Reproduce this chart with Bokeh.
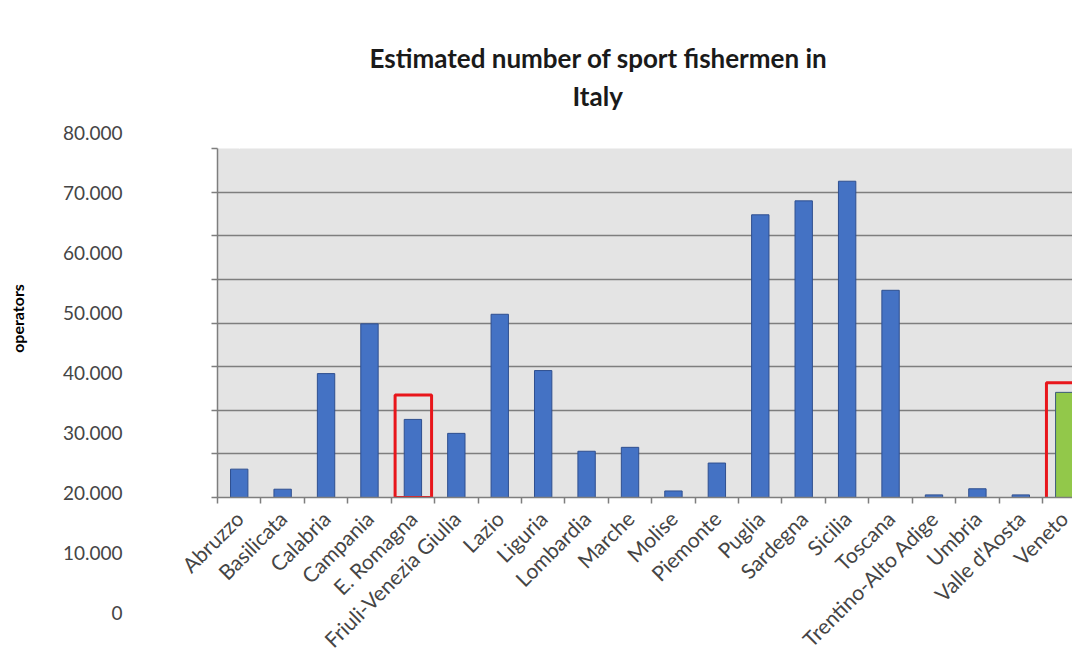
import math
from bokeh.plotting import figure
from bokeh.models import Range1d, FixedTicker, Title, ColumnDataSource, LinearAxis
from bokeh.layouts import row
from bokeh.embed import file_html
from bokeh.resources import INLINE

# ---------------- data ----------------
regions = ["Abruzzo", "Basilicata", "Calabria", "Campania", "E. Romagna",
           "Friuli-Venezia Giulia", "Lazio", "Liguria", "Lombardia", "Marche",
           "Molise", "Piemonte", "Puglia", "Sardegna", "Sicilia", "Toscana",
           "Trentino-Alto Adige", "Umbria", "Valle d'Aosta", "Veneto"]
fishermen = [6500, 1900, 28400, 39800, 17900,
             14700, 42000, 29100, 10600, 11500,
             1500, 7900, 64800, 68000, 72500, 47500,
             600, 2000, 600, 24100]
highlight_regions = ["E. Romagna", "Veneto"]
highlight_top = [23500, 26300]
highlight_bottom = [0, -3700]
y_ticks = [0, 10000, 20000, 30000, 40000, 50000, 60000, 70000, 80000]
y_tick_labels = ["0", "10.000", "20.000", "30.000", "40.000",
                 "50.000", "60.000", "70.000", "80.000"]
title_lines = ["Estimated number of sport fishermen in", "Italy"]
y_label = "operators"

FONT = "Lato"
BLUE = "#4472C4"
BLUE_EDGE = "#2F4F8F"
GREEN = "#92C84A"
GREEN_EDGE = "#3B5A7A"
GRID = "#7E7E7E"
TXT = "#454545"


def no_frame_align(fig):
    try:
        fig.frame_align = False
    except Exception:
        pass


# ---------------- left figure: value labels ----------------
lab = figure(width=130, height=665, x_axis_location=None,
             x_range=Range1d(0, 1), y_range=Range1d(-499, 98628),
             min_border_left=128, min_border_right=0,
             min_border_top=20, min_border_bottom=49,
             output_backend="svg", toolbar_location=None)
no_frame_align(lab)
lab.outline_line_color = None
lab.grid.visible = False
lab.background_fill_color = None
lab.border_fill_color = "white"
ya = lab.yaxis[0]
ya.ticker = FixedTicker(ticks=y_ticks, minor_ticks=[])
ya.major_label_overrides = {t: s for t, s in zip(y_ticks, y_tick_labels)}
ya.axis_line_color = None
ya.major_tick_line_color = None
ya.minor_tick_line_color = None
ya.major_tick_out = 0
ya.major_tick_in = 0
ya.major_label_standoff = 6
ya.major_label_text_font = FONT
ya.major_label_text_font_size = "19px"
ya.major_label_text_color = TXT
ya.axis_label = y_label
ya.axis_label_text_font = FONT
ya.axis_label_text_font_size = "16px"
ya.axis_label_text_font_style = "bold"
ya.axis_label_text_color = "#000000"
ya.axis_label_standoff = 33

# ---------------- main figure ----------------
n = len(regions)
idx = list(range(n))
src = ColumnDataSource(dict(
    x=idx, top=fishermen, name=regions,
    fill=[GREEN if r == "Veneto" else BLUE for r in regions],
    edge=[GREEN_EDGE if r == "Veneto" else BLUE_EDGE for r in regions],
))

p = figure(width=942, height=665,
           x_range=Range1d(-0.5, 19.19), y_range=Range1d(0, 80000),
           min_border_left=87, min_border_right=0,
           min_border_top=148, min_border_bottom=168,
           output_backend="svg", toolbar_location=None)
no_frame_align(p)
p.background_fill_color = "#E4E4E4"
p.border_fill_color = "white"
p.outline_line_color = None
p.xgrid.visible = False
p.ygrid.ticker = FixedTicker(ticks=y_ticks)
p.ygrid.grid_line_color = GRID
p.ygrid.grid_line_width = 1.5

p.vbar(x="x", top="top", width=0.4, source=src,
       fill_color="fill", line_color="edge", line_width=1)

hx = [regions.index(r) for r in highlight_regions]
p.quad(left=[i - 0.41 for i in hx], right=[i + 0.43 for i in hx],
       top=highlight_top, bottom=highlight_bottom,
       fill_color=None, line_color="#E8161B", line_width=3)

# plot-area left edge with outward stubs (minor ticks only, no labels)
yax = p.yaxis[0]
yax.ticker = FixedTicker(ticks=[], minor_ticks=y_ticks)
yax.major_tick_line_color = None
yax.minor_tick_out = 6
yax.minor_tick_in = 0
yax.minor_tick_line_color = GRID
yax.minor_tick_line_width = 1.5
yax.axis_line_color = GRID
yax.axis_line_width = 1.5

xax = p.xaxis[0]
xax.ticker = FixedTicker(ticks=idx, minor_ticks=[i - 0.5 for i in range(n + 1)])
xax.major_label_overrides = {i: r for i, r in zip(idx, regions)}
xax.major_label_orientation = math.pi / 4
xax.major_label_text_font = FONT
xax.major_label_text_font_size = "21px"
xax.major_label_text_color = TXT
xax.major_label_standoff = 11
xax.major_tick_out = 0
xax.major_tick_in = 0
xax.minor_tick_out = 6
xax.minor_tick_in = 0
xax.minor_tick_line_color = GRID
xax.minor_tick_line_width = 1.5
xax.axis_line_color = GRID
xax.axis_line_width = 1.5

# blank spacer between the title block and the plot area:
# one white (invisible) tick, labels not drawn
spacer = LinearAxis(ticker=FixedTicker(ticks=[0], minor_ticks=[]),
                    axis_line_color=None, major_tick_line_color="white",
                    minor_tick_line_color=None, major_tick_out=33,
                    major_tick_in=0, minor_tick_out=0, minor_tick_in=0,
                    major_label_standoff=0, major_label_text_color=None,
                    major_label_text_font_size="1px")
p.add_layout(spacer, "above")
p.add_layout(Title(text=title_lines[1], align="left", offset=355,
                   text_font=FONT, text_font_size="26px",
                   text_font_style="bold", text_color="#1a1a1a",
                   standoff=8), "above")
p.add_layout(Title(text=title_lines[0], align="left", offset=152,
                   text_font=FONT, text_font_size="26px",
                   text_font_style="bold", text_color="#1a1a1a",
                   standoff=0), "above")

layout = row(lab, p, spacing=0)
open("out.html", "w").write(file_html(layout, INLINE))
